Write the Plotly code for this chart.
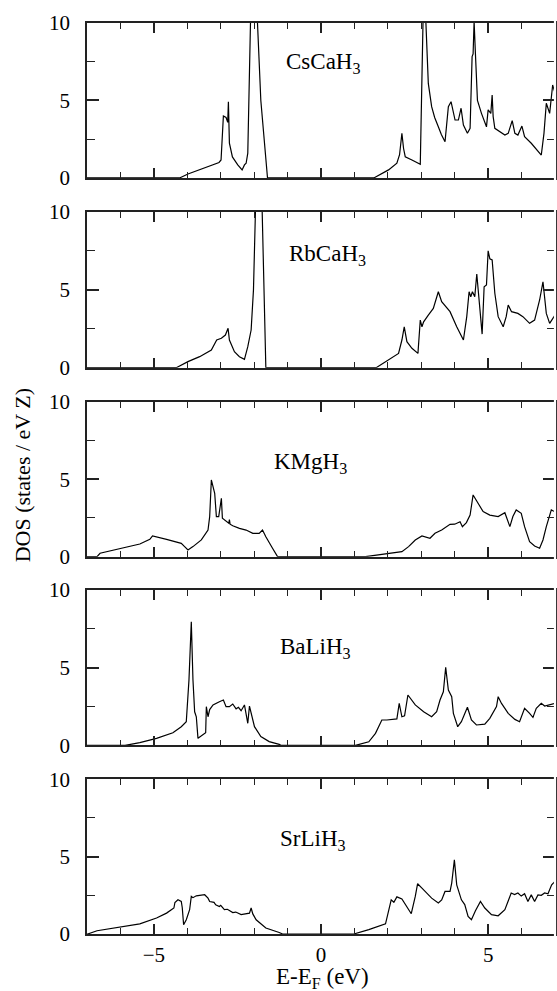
import plotly.graph_objects as go

# ---------------- data ----------------
names = ["CsCaH<sub>3</sub>", "RbCaH<sub>3</sub>", "KMgH<sub>3</sub>", "BaLiH<sub>3</sub>", "SrLiH<sub>3</sub>"]

cs_e = [-7, -4.23, -3.98, -3.63, -3.23, -3.05, -2.99, -2.92, -2.84, -2.79, -2.77, -2.74, -2.65, -2.49, -2.36, -2.29, -2.24, -2.19, -2.10, -2.0, -1.92, -1.8, -1.6,
        1.58, 2.02, 2.27, 2.35, 2.42, 2.47, 2.52, 2.72, 2.97, 3.06, 3.09, 3.12, 3.21, 3.31, 3.4, 3.51, 3.6, 3.71, 3.81, 3.89, 4.01, 4.11, 4.19, 4.26, 4.38, 4.46,
        4.52, 4.55, 4.58, 4.62, 4.68, 4.8, 4.9, 4.95, 5.0, 5.08, 5.12, 5.15, 5.2, 5.4, 5.5, 5.6, 5.72, 5.8, 5.89, 6.01, 6.09, 6.29, 6.59, 6.67, 6.74, 6.84, 6.93, 7.0]
cs_dos = [0, 0, 0.26, 0.52, 0.84, 1.0, 1.16, 4.0, 3.9, 3.6, 4.92, 2.25, 1.36, 0.84, 0.52, 0.84, 0.95, 1.6, 11, 16, 11, 5.0, 0,
          0, 0.52, 0.95, 1.5, 2.88, 1.9, 1.37, 1.16, 0.88, 11, 14, 11, 6.1, 4.6, 3.9, 3.31, 2.8, 2.34, 4.6, 4.92, 3.74, 3.74, 4.5, 3.42, 2.88, 3.2,
          7.83, 8.0, 10.1, 8.0, 5.0, 4.17, 3.53, 3.3, 4.39, 4.17, 5.35, 3.96, 3.2, 2.88, 2.77, 2.88, 3.7, 2.88, 2.77, 3.35, 2.67, 2.24, 1.48, 2.88, 4.82, 4.17, 6.0, 5.5]

rb_e = [-7, -4.33, -3.98, -3.63, -3.28, -3.12, -2.98, -2.86, -2.78, -2.74, -2.59, -2.44, -2.29, -2.19, -2.09, -2.02, -1.95, -1.85, -1.77, -1.65,
        1.65, 2.02, 2.32, 2.42, 2.49, 2.57, 2.72, 2.9, 2.97, 3.02, 3.07, 3.21, 3.36, 3.51, 3.61, 3.86, 4.06, 4.26, 4.36, 4.43, 4.48, 4.53, 4.6, 4.66,
        4.72, 4.82, 4.88, 4.95, 5.0, 5.05, 5.12, 5.2, 5.3, 5.45, 5.54, 5.6, 5.7, 5.89, 6.04, 6.24, 6.39, 6.54, 6.64, 6.74, 6.84, 6.93, 7.0]
rb_dos = [0, 0, 0.39, 0.71, 1.14, 1.78, 1.89, 2.1, 2.53, 1.78, 1.03, 0.71, 0.54, 1.35, 2.42, 5.0, 11, 15, 11, 0,
          0, 0.49, 0.92, 1.78, 2.63, 1.67, 1.25, 0.92, 3.06, 2.63, 2.95, 3.38, 3.81, 4.88, 4.24, 3.6, 2.63, 1.78, 3.28, 4.88, 4.56, 4.88, 4.56, 6.02,
          4.35, 2.16, 5.2, 5.31, 7.51, 7.0, 6.92, 4.78, 3.28, 2.63, 3.28, 4.03, 3.6, 3.49, 3.28, 2.85, 3.06, 4.35, 5.52, 3.49, 2.85, 3.17, 3.38]

km_e = [-7, -6.7, -6.61, -6.01, -5.42, -5.12, -5.04, -4.62, -4.18, -4.08, -3.98, -3.83, -3.58, -3.38, -3.33, -3.28, -3.23, -3.18, -3.13, -3.06, -2.98,
        -2.95, -2.76, -2.74, -2.72, -2.64, -2.44, -2.24, -2.04, -1.85, -1.75, -1.65, -1.45, -1.3,
        1.33, 2.02, 2.42, 2.62, 2.82, 3.02, 3.26, 3.41, 3.61, 3.86, 4.0, 4.16, 4.23, 4.35, 4.46, 4.55, 4.6, 4.7, 4.85, 5.05, 5.3, 5.5, 5.57, 5.65,
        5.74, 5.84, 5.99, 6.09, 6.24, 6.39, 6.54, 6.64, 6.74, 6.89, 7.0]
km_dos = [0, 0, 0.22, 0.5, 0.82, 1.12, 1.34, 1.12, 0.86, 0.65, 0.43, 0.65, 1.08, 1.72, 2.59, 4.96, 4.53, 4.1, 2.59, 2.59, 3.77,
          2.48, 2.16, 2.4, 2.1, 2.0, 1.83, 1.72, 1.51, 1.51, 1.72, 1.29, 0.54, 0,
          0, 0.22, 0.32, 0.65, 1.08, 1.34, 1.19, 1.51, 1.72, 2.09, 2.1, 2.26, 1.94, 2.2, 2.69, 3.99, 3.8, 3.45, 2.91, 2.69, 2.59, 2.84, 2.4, 1.94,
          2.59, 3.02, 2.8, 1.94, 0.97, 0.69, 0.54, 1.08, 1.94, 3.02, 2.9]

ba_e = [-7, -5.86, -5.42, -4.92, -4.43, -4.18, -4.03, -3.95, -3.88, -3.83, -3.78, -3.73, -3.68, -3.53, -3.45, -3.43, -3.38, -3.33, -3.23, -3.04,
        -2.92, -2.84, -2.74, -2.64, -2.54, -2.47, -2.39, -2.29, -2.24, -2.19, -2.14, -2.09, -1.99, -1.8, -1.55, -1.25, -1.2,
        1.03, 1.43, 1.63, 1.82, 1.97, 2.27, 2.34, 2.42, 2.5, 2.6, 2.82, 3.07, 3.31, 3.46, 3.56, 3.66, 3.73, 3.81, 3.91, 3.96, 4.09, 4.2, 4.38,
        4.5, 4.65, 4.9, 5.05, 5.25, 5.3, 5.35, 5.4, 5.6, 5.8, 5.94, 6.09, 6.24, 6.34, 6.44, 6.59, 6.69, 6.84, 7.0]
ba_dos = [0, 0, 0.17, 0.45, 0.81, 1.2, 1.52, 4.2, 7.96, 4.2, 2.16, 1.84, 0.45, 0.66, 0.81, 2.49, 1.84, 2.3, 2.6, 2.81,
          2.92, 2.49, 2.49, 2.66, 2.35, 2.45, 2.23, 2.6, 2.06, 1.42, 2.53, 2.06, 1.2, 0.56, 0.24, 0.06, 0,
          0, 0.23, 0.77, 1.63, 1.63, 1.7, 2.7, 1.84, 1.9, 3.24, 2.6, 2.16, 1.84, 2.16, 2.92, 3.45, 5.02, 3.56, 3.13, 2.06, 1.2, 1.52, 2.45,
          1.63, 1.31, 1.37, 1.74, 2.49, 3.13, 2.85, 2.7, 2.06, 1.67, 1.52, 2.38, 2.06, 1.8, 2.38, 2.7, 2.53, 2.6, 2.7]

sr_e = [-7, -6.98, -6.7, -6.01, -5.42, -4.92, -4.62, -4.4, -4.37, -4.28, -4.18, -4.15, -4.11, -4.03, -3.93, -3.88, -3.83, -3.73, -3.48, -3.38,
        -3.33, -3.2, -3.15, -3.04, -3.0, -2.89, -2.8, -2.64, -2.55, -2.39, -2.25, -2.14, -2.09, -2.04, -1.94, -1.65, -1.25, -1.15,
        0.98, 1.43, 1.93, 2.02, 2.1, 2.18, 2.27, 2.42, 2.52, 2.7, 2.82, 2.89, 3.02, 3.31, 3.51, 3.61, 3.71, 3.86, 3.91, 3.99, 4.06, 4.2, 4.3,
        4.4, 4.5, 4.62, 4.77, 4.9, 5.1, 5.3, 5.5, 5.69, 5.79, 5.89, 5.99, 6.09, 6.19, 6.29, 6.39, 6.49, 6.59, 6.69, 6.79, 6.9, 7.0]
sr_dos = [0, 0, 0.21, 0.45, 0.66, 1.03, 1.35, 1.68, 2.04, 2.21, 2.1, 1.7, 0.6, 0.92, 1.57, 2.43, 2.35, 2.47, 2.54, 2.32,
          2.1, 2.05, 1.89, 1.78, 1.85, 1.57, 1.6, 1.39, 1.42, 1.25, 1.28, 1.35, 1.68, 1.3, 0.92, 0.39, 0.1, 0,
          0, 0.28, 0.66, 1.57, 2.21, 2.05, 2.4, 2.26, 1.9, 1.31, 2.43, 3.25, 2.97, 2.32, 2.0, 2.2, 2.75, 2.75, 3.29, 4.79, 3.18, 2.21, 1.9,
          1.14, 0.92, 1.5, 2.1, 1.68, 1.25, 1.18, 1.57, 2.65, 2.55, 2.65, 2.45, 2.6, 2.1, 2.53, 2.1, 2.53, 2.5, 2.65, 2.6, 3.18, 3.4]

x_ticks = [-5, 0, 5]
y_ticks = [0, 5, 10]
x_title = "E-E<sub>F</sub> (eV)"
y_title = "DOS (states / eV Z)"

series = [(cs_e, cs_dos), (rb_e, rb_dos), (km_e, km_dos), (ba_e, ba_dos), (sr_e, sr_dos)]

# ---------------- layout ----------------
FONT = "Liberation Serif"
W, H = 557, 991
ML, MR, MT, MB = 87, 0, 23, 57
domains = [[0.8299, 1.0], [0.6216, 0.7925], [0.4142, 0.584], [0.2071, 0.3776], [0.0, 0.1698]]
label_pos = [(0.06, 7.45), (0.19, 7.22), (-0.3, 6.04), (-0.16, 6.27), (-0.25, 6.08)]

fig = go.Figure()
lay = dict(
    width=W, height=H,
    margin=dict(l=ML, r=MR, t=MT, b=MB, pad=0),
    paper_bgcolor="white", plot_bgcolor="white",
    showlegend=False,
    font=dict(family=FONT, size=20, color="black"),
)
annotations = []
shapes = []
axcol = "#222"
for i, ((xe, yd), nm) in enumerate(zip(series, names)):
    k = "" if i == 0 else str(i + 1)
    fig.add_trace(go.Scatter(x=xe, y=yd, mode="lines",
                             line=dict(color="black", width=1.2),
                             xaxis="x" + k, yaxis="y" + k, hoverinfo="skip"))
    lay["xaxis" + k] = dict(
        domain=[0, 1], anchor="y" + k, range=[-7, 7],
        tickvals=x_ticks, ticks="inside", ticklen=10, tickwidth=1.5, tickcolor=axcol,
        minor=dict(dtick=1, tick0=0, ticks="inside", ticklen=6, tickwidth=1.3, tickcolor=axcol),
        showline=True, linecolor=axcol, linewidth=1.5, mirror="allticks",
        showgrid=False, zeroline=False,
        showticklabels=(i == 4), ticklabelstandoff=1,
        tickfont=dict(family=FONT, size=21, color="black"),
    )
    lay["yaxis" + k] = dict(
        domain=domains[i], anchor="x" + k, range=[0, 10],
        tickvals=y_ticks, ticks="inside", ticklen=12, tickwidth=1.8, tickcolor=axcol,
        minor=dict(dtick=2.5, tick0=0, ticks="inside", ticklen=8, tickwidth=1.3, tickcolor=axcol),
        showline=True, linecolor=axcol, linewidth=1.5, mirror="allticks",
        showgrid=False, zeroline=False, ticklabelstandoff=11,
        tickfont=dict(family=FONT, size=21, color="black"),
    )
    lx, ly = label_pos[i]
    annotations.append(dict(text=nm, x=lx, y=ly, xref="x" + k, yref="y" + k,
                            xanchor="center", yanchor="middle", showarrow=False,
                            font=dict(family=FONT, size=23, color="black")))

# the reference frame is cut off at the right edge: hide the mirrored right line
shapes.append(dict(type="line", xref="paper", yref="paper", x0=1, x1=1, y0=-0.01, y1=1.01,
                   line=dict(color="white", width=2.2), layer="above"))

annotations.append(dict(text=y_title, xref="paper", yref="paper", x=(22 - ML) / (W - ML - MR),
                        y=(H - MB - 475) / (H - MT - MB), textangle=-90,
                        xanchor="center", yanchor="middle", showarrow=False,
                        font=dict(family=FONT, size=22, color="black")))
annotations.append(dict(text=x_title, xref="paper", yref="paper", x=(324 - ML) / (W - ML - MR),
                        y=(H - MB - 978) / (H - MT - MB),
                        xanchor="center", yanchor="middle", showarrow=False,
                        font=dict(family=FONT, size=23, color="black")))
lay["annotations"] = annotations
lay["shapes"] = shapes
fig.update_layout(**lay)
fig.write_html("out.html")
